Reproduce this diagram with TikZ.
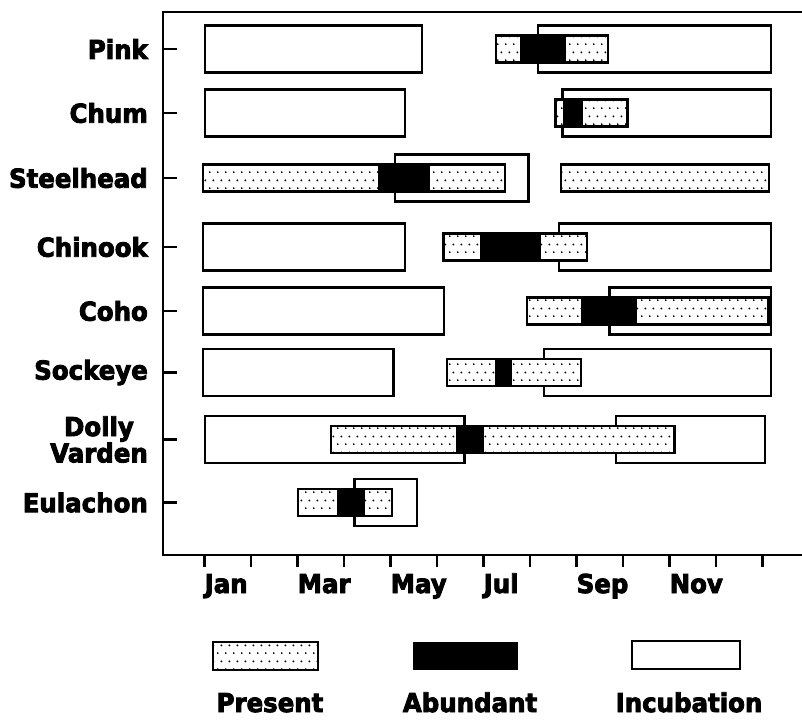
\documentclass[tikz,border=0pt]{standalone}
\usepackage{fontspec}
\setmainfont{DejaVu Sans}
\newfontfamily\heavyfont{DejaVu Sans Bold}[FakeBold=3.2, FakeStretch=0.94]
\usetikzlibrary{patterns.meta}

% sparse staggered dots for the "present" bars
\tikzdeclarepattern{
  name=sparsedots,
  type=uncolored,
  bounding box={(0pt,0pt) and (8pt,16pt)},
  tile size={(8pt,16pt)},
  code={
    \fill (2pt,4pt) circle (1.1pt);
    \fill (6pt,12pt) circle (1.1pt);
  }
}

\tikzset{
  incub/.style={draw, line width=2.4pt, fill=white},
  present/.style={draw, line width=2.4pt, fill=white, postaction={pattern=sparsedots}},
  abund/.style={fill=black},
  axisline/.style={line width=2.6pt},
  lbl/.style={font=\heavyfont\fontsize{26}{23}\selectfont, inner sep=0pt},
}

\begin{document}
\begin{tikzpicture}[x=1pt, y=-1pt]

  \useasboundingbox (0,0) rectangle (802,720);

  % frame and axes
  \draw[axisline] (802,12) -- (163,12) -- (163,555) -- (802,555);

  \foreach \m in {0,...,12}
    \draw[axisline] (204.5+46.5*\m,555) -- ++(0,12);

  \foreach \c in {49,113,178,247,311,372.5,439.5,502.5}
    \draw[axisline] (163,\c) -- (177,\c);

  % incubation periods (x from, x to, row)
  \foreach \a/\b/\c in {205/421.7/49, 537.7/770.7/49,
                        205/405/113, 562.5/770.7/113,
                        395/528.3/178,
                        202.7/405/247, 559/770.7/247,
                        202.7/444/311, 609.3/770.7/311,
                        202.7/393.3/372.5, 544/770.7/372.5,
                        205/464.3/439.5, 616/765/439.5,
                        354.3/416.7/502.5}
    \draw[incub] (\a,\c-23.5) rectangle (\b,\c+23.5);

  % present
  \foreach \a/\b/\c in {495.7/607.7/49,
                        555.5/627.5/113,
                        202.7/505/178, 561/769/178,
                        443.3/586.7/247,
                        526.7/768.3/311,
                        446.7/581/372.5,
                        331/674.3/439.5,
                        297.7/391.7/502.5}
    \draw[present] (\a,\c-13.5) rectangle (\b,\c+13.5);

  % abundant
  \foreach \a/\b/\c in {520/565.7/49,
                        563/582.5/113,
                        377.7/430/178,
                        480/540.5/247,
                        581/637.3/311,
                        495/511.7/372.5,
                        456/484.3/439.5,
                        336.7/365/502.5}
    \fill[abund] (\a,\c-13.5) rectangle (\b,\c+13.5);

  % species
  \foreach \n/\c/\t in {pink/49/Pink, chum/113/Chum, steelhead/178/Steelhead,
                        chinook/247/Chinook, coho/311/Coho, sockeye/372.5/Sockeye,
                        eulachon/502.5/Eulachon}
    \node[lbl, anchor=east] (\n) at (148,\c) {\t};
  \node[lbl, anchor=east, align=center] (dolly) at (148,439.5) {Dolly\\Varden};

  % months
  \foreach \m/\mon in {0/Jan,2/Mar,4/May,6/Jul,8/Sep,10/Nov}
    \node[lbl, anchor=base west] (\mon) at (204.5+46.5*\m,593) {\mon};

  % legend
  \draw[present] (213,642) rectangle (318,670);
  \fill[abund] (413,641.5) rectangle (518,669.5);
  \draw[incub] (632,641) rectangle (740,669);

  \node[lbl, anchor=base] (lgpresent) at (270,712) {Present};
  \node[lbl, anchor=base] (lgabund) at (470,712) {Abundant};
  \node[lbl, anchor=base] (lgincub) at (689,712) {Incubation};

\end{tikzpicture}
\end{document}
